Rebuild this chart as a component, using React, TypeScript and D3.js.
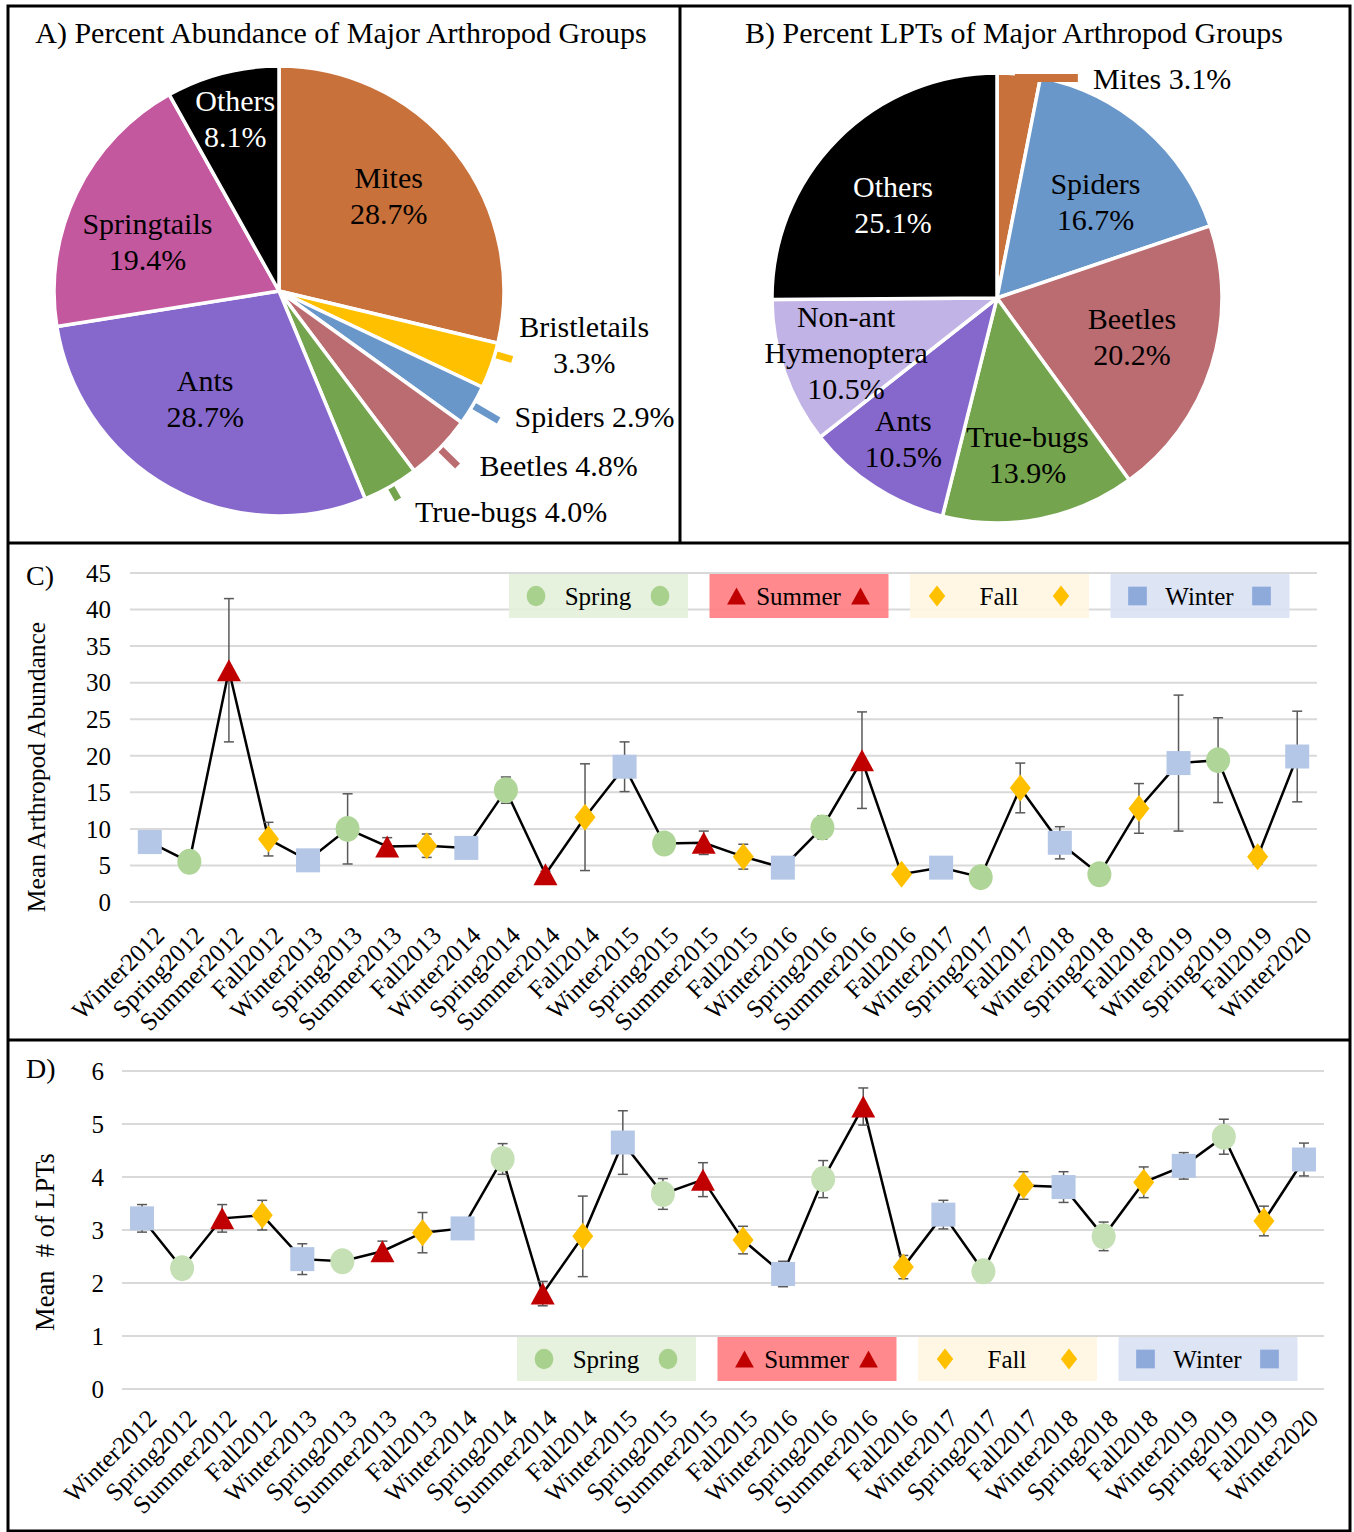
import React, { useRef, useEffect } from "react";
import * as d3 from "d3";

// ---- data ----
const seasons = [
  "Winter2012", "Spring2012", "Summer2012", "Fall2012",
  "Winter2013", "Spring2013", "Summer2013", "Fall2013",
  "Winter2014", "Spring2014", "Summer2014", "Fall2014",
  "Winter2015", "Spring2015", "Summer2015", "Fall2015",
  "Winter2016", "Spring2016", "Summer2016", "Fall2016",
  "Winter2017", "Spring2017", "Fall2017",
  "Winter2018", "Spring2018", "Fall2018",
  "Winter2019", "Spring2019", "Fall2019",
  "Winter2020",
];

const abundanceMean = [
  8.2, 5.5, 31.7, 8.6, 5.7, 10.0, 7.6, 7.7, 7.4, 15.3, 3.8, 11.6, 18.5, 8.0, 8.1,
  6.2, 4.7, 10.2, 19.4, 3.8, 4.7, 3.4, 15.6, 8.1, 3.8, 12.8, 19.0, 19.4, 6.2, 19.9,
];
const abundanceErr = [
  0.5, 0.4, 9.8, 2.3, 0.6, 4.8, 1.2, 1.6, 0.5, 1.8, 0.4, 7.3, 3.4, 1.2, 1.6,
  1.7, 0.4, 1.6, 6.6, 0.5, 0.4, 0.4, 3.4, 2.2, 0.4, 3.4, 9.3, 5.8, 1.0, 6.2,
];

const lptMean = [
  3.22, 2.28, 3.22, 3.28, 2.45, 2.41, 2.6, 2.95, 3.03, 4.34, 1.8, 2.88, 4.65, 3.68, 3.95,
  2.81, 2.17, 3.96, 5.33, 2.3, 3.29, 2.22, 3.84, 3.81, 2.88, 3.9, 4.21, 4.76, 3.17, 4.33,
];
const lptErr = [
  0.26, 0.1, 0.26, 0.28, 0.29, 0.1, 0.19, 0.38, 0.1, 0.29, 0.23, 0.76, 0.6, 0.29, 0.32,
  0.26, 0.24, 0.35, 0.35, 0.22, 0.27, 0.1, 0.26, 0.29, 0.27, 0.29, 0.25, 0.33, 0.28, 0.31,
];

const abundanceTicks = [0, 5, 10, 15, 20, 25, 30, 35, 40, 45];
const lptTicks = [0, 1, 2, 3, 4, 5, 6];

const pieAGroups = ["Mites", "Bristletails", "Spiders", "Beetles", "True-bugs", "Ants", "Springtails", "Others"];
const pieAPercent = [28.7, 3.3, 2.9, 4.8, 4.0, 28.7, 19.4, 8.1];

const pieBGroups = ["Mites", "Spiders", "Beetles", "True-bugs", "Ants", "Non-ant Hymenoptera", "Others"];
const pieBPercent = [3.1, 16.7, 20.2, 13.9, 10.5, 10.5, 25.1];

const legendSeasons = ["Spring", "Summer", "Fall", "Winter"];

// ---- styles ----
const FONT = "'Liberation Serif', 'Times New Roman', serif";
const W = 1354;
const H = 1532;

const groupColor: Record<string, string> = {
  Mites: "#c8713b",
  Bristletails: "#ffc000",
  Spiders: "#6a97c9",
  Beetles: "#bb6c71",
  "True-bugs": "#74a44d",
  Ants: "#8668cc",
  Springtails: "#c4589f",
  Others: "#000000",
  "Non-ant Hymenoptera": "#c1b3e6",
};

const legendBg: Record<string, string> = {
  Spring: "#e3f0da",
  Summer: "#ff7c80",
  Fall: "#fff5e1",
  Winter: "#d9e2f3",
};
const legendMarker: Record<string, string> = {
  Spring: "#a9d18e",
  Summer: "#c00000",
  Fall: "#ffc000",
  Winter: "#8eaadb",
};

type Sel = d3.Selection<any, any, any, any>;

type LabelLayout = {
  k?: number; // inside label radius factor
  white?: boolean;
  lead?: number; // outside leader length
  da?: number; // leader angle tweak (deg)
  dx?: number;
  dy?: number;
  mode?: "stack" | "inline" | "bar";
  lines?: string[];
};

const PIE_FONT = "30px";
const LINE_H = 36;

function drawPie(
  svg: Sel,
  title: string,
  titleX: number,
  groups: string[],
  values: number[],
  cx: number,
  cy: number,
  layout: Record<string, LabelLayout>
) {
  const R = 225;
  svg
    .append("text")
    .attr("x", titleX)
    .attr("y", 43)
    .attr("text-anchor", "middle")
    .style("font-size", "30px")
    .text(title);

  const g = svg.append("g").attr("transform", `translate(${cx},${cy})`);
  const arcs = d3.pie<number>().sort(null).value((d) => d)(values);
  const arc = d3.arc<d3.PieArcDatum<number>>().innerRadius(0).outerRadius(R);
  const polar = (a: number, r: number) => [Math.sin(a) * r, -Math.cos(a) * r];
  const midOf = (a: d3.PieArcDatum<number>, L: LabelLayout) =>
    (a.startAngle + a.endAngle) / 2 + ((L.da || 0) * Math.PI) / 180;

  // radial leader lines underneath the slices
  arcs.forEach((a, i) => {
    const L = layout[groups[i]];
    if (!L || L.lead === undefined || L.mode === "bar") return;
    const mid = midOf(a, L);
    const [x0, y0] = polar(mid, R - 10);
    const [x1, y1] = polar(mid, R + L.lead);
    g.append("line")
      .attr("x1", x0).attr("y1", y0).attr("x2", x1).attr("y2", y1)
      .attr("stroke", groupColor[groups[i]])
      .attr("stroke-width", 7);
  });

  g.selectAll("path.slice")
    .data(arcs)
    .join("path")
    .attr("class", "slice")
    .attr("d", arc)
    .attr("fill", (_, i) => groupColor[groups[i]])
    .attr("stroke", "#fff")
    .attr("stroke-width", 3.5)
    .attr("stroke-linejoin", "round");

  // horizontal bar leader (drawn over the slices)
  arcs.forEach((a, i) => {
    const L = layout[groups[i]];
    if (!L || L.mode !== "bar") return;
    const [ex, ey] = polar(midOf(a, L), R);
    g.append("line")
      .attr("x1", ex - 4).attr("x2", ex + (L.lead || 60))
      .attr("y1", ey + 4).attr("y2", ey + 4)
      .attr("stroke", groupColor[groups[i]])
      .attr("stroke-width", 8);
  });

  arcs.forEach((a, i) => {
    const name = groups[i];
    const L = layout[name] || {};
    const mid = midOf(a, L);
    const pct = `${values[i].toFixed(1)}%`;
    const lines = L.lines ? [...L.lines, pct] : [name, pct];
    let px: number, py: number;
    if (L.mode === "bar") {
      const [ex, ey] = polar(mid, R);
      px = ex + (L.dx || 0);
      py = ey + (L.dy || 0);
    } else if (L.lead !== undefined) {
      const [x1, y1] = polar(mid, R + L.lead);
      px = x1 + (L.dx || 0);
      py = y1 + (L.dy || 0);
    } else {
      const la = d3.arc<d3.PieArcDatum<number>>()
        .innerRadius(R * (L.k || 0.63))
        .outerRadius(R * (L.k || 0.63));
      [px, py] = la.centroid(a);
      px += L.dx || 0;
      py += (L.dy || 0) - ((lines.length - 1) * LINE_H) / 2;
    }
    const inline = L.mode === "inline" || L.mode === "bar";
    const t = g
      .append("text")
      .attr("text-anchor", inline ? "start" : "middle")
      .attr("fill", L.white ? "#fff" : "#000")
      .style("font-size", PIE_FONT);
    if (inline) {
      t.append("tspan").attr("x", px).attr("y", py).attr("dy", "0.35em").text(`${name} ${pct}`);
    } else {
      lines.forEach((ln, j) => {
        t.append("tspan").attr("x", px).attr("y", py + j * LINE_H).attr("dy", "0.35em").text(ln);
      });
    }
  });
}

function drawMarker(g: Sel, season: string, x: number, y: number, s: number, color: string) {
  if (season === "Spring") {
    g.append("ellipse").attr("cx", x).attr("cy", y).attr("rx", 12 * s).attr("ry", 13 * s).attr("fill", color);
  } else if (season === "Summer") {
    const w = 24 * s, h = 22 * s;
    g.append("path")
      .attr("d", `M${x},${y - h / 2}L${x + w / 2},${y + h / 2}L${x - w / 2},${y + h / 2}Z`)
      .attr("fill", color);
  } else if (season === "Fall") {
    const w = 21 * s, h = 27 * s;
    g.append("path")
      .attr("d", `M${x},${y - h / 2}L${x + w / 2},${y}L${x},${y + h / 2}L${x - w / 2},${y}Z`)
      .attr("fill", color);
  } else {
    const w = 24 * s;
    g.append("rect").attr("x", x - w / 2).attr("y", y - w / 2).attr("width", w).attr("height", w).attr("fill", color);
  }
}

type SeriesOpts = {
  means: number[];
  errs: number[];
  ticks: number[];
  yTop: number;
  yBottom: number;
  xLeft: number;
  xRight: number;
  tickRight: number;
  title: string;
  titleX: number;
  titleY: number;
  titleSize: string;
  panel: string;
  panelY: number;
  legendY: number;
  legendX: number;
  labelY: number;
  colors: Record<string, string>;
};

function drawSeries(svg: Sel, o: SeriesOpts) {
  const g = svg.append("g");
  const x = d3.scaleBand<string>().domain(seasons).range([o.xLeft, o.xRight]);
  const cxOf = (s: string) => (x(s) as number) + x.bandwidth() / 2;
  const y = d3
    .scaleLinear()
    .domain([0, o.ticks[o.ticks.length - 1]])
    .range([o.yBottom, o.yTop]);

  // gridlines
  g.selectAll("line.grid")
    .data(o.ticks)
    .join("line")
    .attr("x1", o.xLeft)
    .attr("x2", o.xRight)
    .attr("y1", (d) => y(d))
    .attr("y2", (d) => y(d))
    .attr("stroke", "#d9d9d9")
    .attr("stroke-width", 2);

  // y tick labels
  g.selectAll("text.yt")
    .data(o.ticks)
    .join("text")
    .attr("x", o.tickRight)
    .attr("y", (d) => y(d))
    .attr("dy", "0.35em")
    .attr("text-anchor", "end")
    .style("font-size", "25px")
    .text((d) => d);

  // axis title
  g.append("text")
    .attr("transform", `translate(${o.titleX},${o.titleY}) rotate(-90)`)
    .attr("text-anchor", "middle")
    .attr("dy", "0.35em")
    .style("font-size", o.titleSize)
    .style("white-space", "pre")
    .text(o.title);

  g.append("text")
    .attr("x", 26)
    .attr("y", o.panelY)
    .attr("dy", "0.35em")
    .style("font-size", "28px")
    .text(o.panel);

  // x labels
  g.selectAll("text.xt")
    .data(seasons)
    .join("text")
    .attr("transform", (d) => `translate(${cxOf(d) + 16},${o.labelY}) rotate(-45)`)
    .attr("text-anchor", "end")
    .style("font-size", "25px")
    .text((d) => d);

  // legend
  legendSeasons.forEach((s, i) => {
    const bx = o.legendX + i * 200.5;
    const lg = g.append("g");
    lg.append("rect")
      .attr("x", bx)
      .attr("y", o.legendY)
      .attr("width", 179)
      .attr("height", 44)
      .attr("fill", legendBg[s])
      .attr("opacity", 0.9);
    drawMarker(lg, s, bx + 27, o.legendY + 22, 0.78, legendMarker[s]);
    drawMarker(lg, s, bx + 151, o.legendY + 22, 0.78, legendMarker[s]);
    lg.append("text")
      .attr("x", bx + 89)
      .attr("y", o.legendY + 22)
      .attr("dy", "0.35em")
      .attr("text-anchor", "middle")
      .style("font-size", "25px")
      .text(s);
  });

  // series line
  const line = d3
    .line<number>()
    .x((_, i) => cxOf(seasons[i]))
    .y((d) => y(d));
  g.append("path")
    .attr("d", line(o.means))
    .attr("fill", "none")
    .attr("stroke", "#000")
    .attr("stroke-width", 2.5);

  // error bars
  o.means.forEach((m, i) => {
    const cx = cxOf(seasons[i]);
    const y1 = y(m + o.errs[i]);
    const y2 = y(Math.max(0, m - o.errs[i]));
    const eb = g.append("g").attr("stroke", "#595959").attr("stroke-width", 1.5);
    eb.append("line").attr("x1", cx).attr("x2", cx).attr("y1", y1).attr("y2", y2);
    eb.append("line").attr("x1", cx - 5).attr("x2", cx + 5).attr("y1", y1).attr("y2", y1);
    eb.append("line").attr("x1", cx - 5).attr("x2", cx + 5).attr("y1", y2).attr("y2", y2);
  });

  // markers
  o.means.forEach((m, i) => {
    const season = seasons[i].replace(/\d+/, "");
    drawMarker(g, season, cxOf(seasons[i]), y(m), 1, o.colors[season]);
  });
}

const App: React.FC = () => {
  const ref = useRef<SVGSVGElement | null>(null);

  useEffect(() => {
    if (!ref.current) return;
    const svg = d3.select(ref.current);
    svg.selectAll("*").remove();
    svg.append("rect").attr("width", W).attr("height", H).attr("fill", "#fff");

    drawPie(svg, "A) Percent Abundance of Major Arthropod Groups", 341, pieAGroups, pieAPercent, 279, 291, {
      Mites: { k: 0.65, dx: -5, dy: -5 },
      Springtails: { k: 0.63, dx: -4, dy: 12 },
      Ants: { k: 0.6, dx: -8, dy: -10 },
      Others: { k: 0.79, white: true, dx: 1, dy: -1 },
      Bristletails: { lead: 18, da: -3, dx: 72, dy: -33, mode: "stack" },
      Spiders: { lead: 30, dx: 16, dy: -4, mode: "inline" },
      Beetles: { lead: 25, dx: 22, dy: 0, mode: "inline" },
      "True-bugs": { lead: 15, dx: 17, dy: 12, mode: "inline" },
    });

    drawPie(svg, "B) Percent LPTs of Major Arthropod Groups", 1014, pieBGroups, pieBPercent, 997, 298, {
      Mites: { lead: 59, mode: "bar", dx: 74, dy: 4 },
      Spiders: { k: 0.61, dx: 8, dy: 7 },
      Beetles: { k: 0.62, dx: 2, dy: -4 },
      "True-bugs": { k: 0.71 },
      Ants: { k: 0.75, dx: -2, dy: -1 },
      "Non-ant Hymenoptera": { k: 0.72, dx: 2, dy: 1, lines: ["Non-ant", "Hymenoptera"] },
      Others: { k: 0.62, white: true, dx: -5, dy: 5 },
    });

    drawSeries(svg, {
      means: abundanceMean,
      errs: abundanceErr,
      ticks: abundanceTicks,
      yTop: 573,
      yBottom: 902,
      xLeft: 130,
      xRight: 1317,
      tickRight: 111,
      title: "Mean Arthropod Abundance",
      titleX: 36,
      titleY: 767,
      titleSize: "25.5px",
      panel: "C)",
      panelY: 575,
      legendY: 574,
      legendX: 509,
      labelY: 937,
      colors: { Spring: "#b0d598", Summer: "#c00000", Fall: "#ffc000", Winter: "#b4c7e7" },
    });

    drawSeries(svg, {
      means: lptMean,
      errs: lptErr,
      ticks: lptTicks,
      yTop: 1071,
      yBottom: 1389,
      xLeft: 122,
      xRight: 1324,
      tickRight: 104,
      title: "Mean  # of LPTs",
      titleX: 45,
      titleY: 1242,
      titleSize: "26.5px",
      panel: "D)",
      panelY: 1068,
      legendY: 1337,
      legendX: 517,
      labelY: 1420,
      colors: { Spring: "#c5e0b4", Summer: "#c00000", Fall: "#ffc000", Winter: "#b4c7e7" },
    });

    // frame
    const fr = svg.append("g").attr("stroke", "#000").attr("stroke-width", 3).attr("fill", "none");
    fr.append("rect").attr("x", 8).attr("y", 6).attr("width", 1342).attr("height", 1525);
    fr.append("line").attr("x1", 680).attr("x2", 680).attr("y1", 6).attr("y2", 543);
    fr.append("line").attr("x1", 8).attr("x2", 1350).attr("y1", 543).attr("y2", 543);
    fr.append("line").attr("x1", 8).attr("x2", 1350).attr("y1", 1040).attr("y2", 1040);
  }, []);

  return (
    <svg
      ref={ref}
      width={W}
      height={H}
      style={{ position: "absolute", left: 0, top: 0, fontFamily: FONT }}
    />
  );
};

export default App;
